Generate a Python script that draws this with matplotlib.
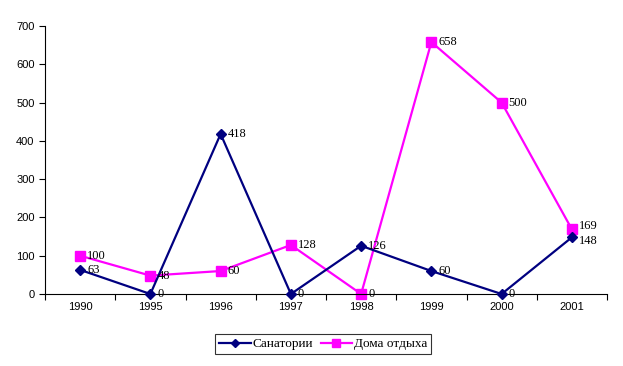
import matplotlib
matplotlib.use('Agg')
import numpy as np
import matplotlib.pyplot as plt
from matplotlib.ticker import FixedLocator, NullFormatter

# ── данные ─────────────────────────────────────────────
years = ['1990', '1995', '1996', '1997', '1998', '1999', '2000', '2001']
sanatorii = [63, 0, 418, 0, 126, 60, 0, 148]
doma_otdyha = [100, 48, 60, 128, 0, 658, 500, 169]

NAVY = '#000080'
MAGENTA = '#FF00FF'

fig = plt.figure(figsize=(6.23, 3.66), dpi=100)
ax = fig.add_axes([45 / 623, 1 - 294 / 366, 562 / 623, 268 / 366])

x = np.arange(len(years))
l1, = ax.plot(x, sanatorii, color=NAVY, lw=1.6, marker='D', ms=5.5,
              mfc=NAVY, mec=NAVY, label='Санатории', zorder=3)
l2, = ax.plot(x, doma_otdyha, color=MAGENTA, lw=1.6, marker='s', ms=7,
              mfc=MAGENTA, mec=MAGENTA, label='Дома отдыха', zorder=2)

# подписи значений справа от точек (последняя пара слегка разведена)
n = len(years)
for i, v in enumerate(sanatorii):
    dy = -2.5 if i == n - 1 else 0
    ax.annotate(str(v), (x[i], v), xytext=(5, dy), textcoords='offset points',
                va='center', ha='left', fontsize=9, family='Liberation Serif')
for i, v in enumerate(doma_otdyha):
    dy = 2.5 if i == n - 1 else 0
    ax.annotate(str(v), (x[i], v), xytext=(5, dy), textcoords='offset points',
                va='center', ha='left', fontsize=9, family='Liberation Serif')

ax.set_xlim(-0.5, n - 0.5)
ax.set_ylim(0, 700)
ax.set_yticks(range(0, 701, 100))

# деления на границах категорий, подписи по центрам
ax.xaxis.set_major_locator(FixedLocator(np.arange(-0.5, n, 1.0)))
ax.xaxis.set_major_formatter(NullFormatter())
ax.xaxis.set_minor_locator(FixedLocator(x))
ax.set_xticklabels(years, minor=True)
ax.tick_params(axis='x', which='major', length=4, direction='out', width=0.8)
ax.tick_params(axis='x', which='minor', length=0, pad=6, labelsize=8)
ax.tick_params(axis='y', length=4, direction='out', width=0.8, labelsize=8)
for lab in ax.get_xticklabels(minor=True) + ax.get_yticklabels():
    lab.set_family('Liberation Sans')

for s in ['top', 'right']:
    ax.spines[s].set_visible(False)
for s in ['left', 'bottom']:
    ax.spines[s].set_linewidth(0.8)
for ln in (l1, l2):
    ln.set_clip_on(False)

leg = fig.legend(handles=[l1, l2], loc='center', bbox_to_anchor=(323 / 623, 1 - 344 / 366),
                 ncol=2, frameon=True, fancybox=False, edgecolor='black',
                 prop={'family': 'Liberation Serif', 'size': 9.5},
                 handlelength=2.4, handletextpad=0.1, columnspacing=0.6,
                 borderpad=0.3, markerscale=0.8)
leg.get_frame().set_linewidth(0.8)

fig.savefig('out.png', dpi=100)
